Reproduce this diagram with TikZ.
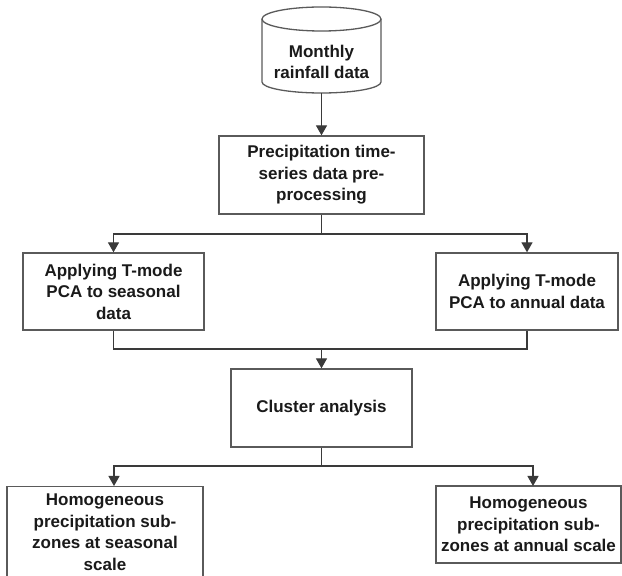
\documentclass[tikz,border=0pt]{standalone}
\usepackage{fontspec}
\setmainfont{Liberation Sans}
\usetikzlibrary{arrows.meta}
\definecolor{txt}{HTML}{1A1A1A}
\definecolor{ln}{HTML}{3A3A3A}
\definecolor{bd}{HTML}{5A5A5A}
\begin{document}
\begin{tikzpicture}[x=1pt,y=1pt,
  box/.style={draw=bd,line width=1.3pt,fill=white,rectangle,inner sep=0pt,align=center,
    font=\fontsize{17}{21.5}\selectfont\bfseries,text=txt},
  plain/.style={inner sep=0pt,align=center,font=\fontsize{17}{21.5}\selectfont\bfseries,text=txt},
  conn/.style={draw=ln,line width=1.3pt},
  arr/.style={conn,-{Triangle[width=11pt,length=10pt]}}]
\useasboundingbox (0,0) rectangle (622,576);
% cylinder
\node[plain,minimum width=119pt,minimum height=86pt] (cyl) at (321.5,526) {};
\draw[draw=bd,line width=1.3pt,fill=white]
  (262,557) -- (262,494) arc[start angle=180,end angle=360,x radius=59.5,y radius=11]
  -- (381,557);
\draw[draw=bd,line width=1.3pt,fill=white] (321.5,557) ellipse[x radius=59.5,y radius=12];
\node[plain] (cyltext) at (321.5,514) {Monthly\\rainfall data};
% boxes
\node[box,minimum width=205pt,minimum height=78pt] (pre) at (321.5,401)
  {Precipitation time-\\series data pre-\\processing};
\node[box,minimum width=181pt,minimum height=77pt] (A) at (113.5,284.5)
  {Applying T-mode\\PCA to seasonal\\data};
\node[box,minimum width=182pt,minimum height=77pt] (B) at (527,284.5)
  {Applying T-mode\\PCA to annual data};
\node[box,minimum width=181pt,minimum height=78pt] (clu) at (321.5,168)
  {Cluster analysis};
\node[box,minimum width=196pt,minimum height=120pt,anchor=north] (C) at (105,90) {};
\node[plain] (Ct) at (105,44)
  {Homogeneous\\precipitation sub-\\zones at seasonal\\scale};
\node[box,minimum width=185pt,minimum height=77pt] (D) at (528.5,51.5)
  {Homogeneous\\precipitation sub-\\zones at annual scale};
% connectors
\coordinate (s1) at (321.5,342);
\coordinate (j1) at (321.5,227);
\coordinate (s2) at (321.5,110);
\coordinate (Ctop) at (114,90);
\coordinate (Dtop) at (533,90);
\draw[arr] (cyl.south) -- (pre.north);
\draw[conn] (pre.south) -- (s1);
\draw[arr] (s1) -| (A.north);
\draw[arr] (s1) -| (B.north);
\draw[conn] (A.south) |- (j1) -| (B.south);
\draw[arr] (j1) -- (clu.north);
\draw[conn] (clu.south) -- (s2);
\draw[arr] (s2) -| (Ctop);
\draw[arr] (s2) -| (Dtop);
\end{tikzpicture}
\end{document}
